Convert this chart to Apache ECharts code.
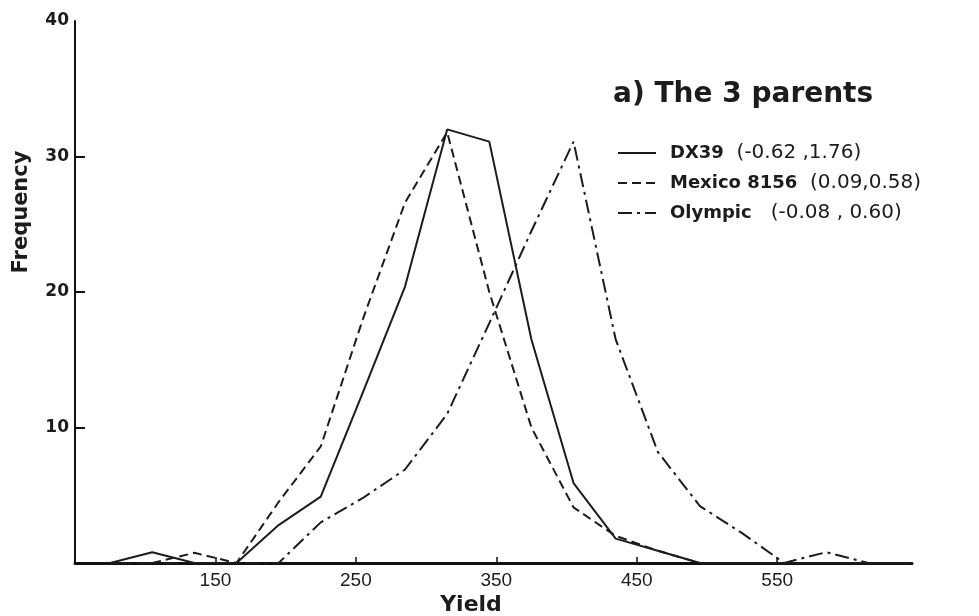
<!DOCTYPE html>
<html>
<head>
<meta charset="utf-8">
<script src="https://cdn.jsdelivr.net/npm/echarts@6/dist/echarts.min.js"></script>
<style>
html,body{margin:0;padding:0;background:#fff;}
#chart{width:979px;height:616px;}
</style>
</head>
<body>
<div id="chart"></div>
<script>
// Class midpoints (yield)
const yieldMid = [75,105,135,165,195,225,255,285,315,345,375,405,435,465,495,525,555,585,615,645];
// Frequencies
const dx39    = [0,0.8,0,0,2.8,4.9,12.6,20.4,32.0,31.1,16.5,5.9,1.8,0.9,0,0,0,0,0,0];
const mexico  = [0,0,0.75,0,4.5,8.6,18.0,26.6,31.8,20.0,10.0,4.1,2.0,0.9,0,0,0,0,0,0];
const olympic = [0,0,0,0,0,3.0,4.8,6.9,11.0,17.7,24.5,31.1,16.5,8.2,4.2,2.2,0,0.8,0,0];
const xTickValues = [150,250,350,450,550];
const yTickValues = [10,20,30,40];
const seriesNames = ['DX39','Mexico 8156','Olympic'];
const seriesStats = ['(-0.62 ,1.76)','(0.09,0.58)','(-0.08 , 0.60)'];
const statGaps = ['  ','  ','   '];

const ink = '#1c1c1c';
const chart = echarts.init(document.getElementById('chart'));
function pairs(vals){ return yieldMid.map((x,i)=>[x, vals[i]]); }

chart.setOption({
  animation:false,
  backgroundColor:'#ffffff',
  title:{
    text:'a) The 3 parents',
    left:608, top:76,
    textStyle:{fontFamily:'DejaVu Sans', fontWeight:'bold', fontSize:28, color:ink}
  },
  legend:{
    orient:'vertical',
    left:612, top:138,
    itemWidth:38, itemHeight:20, itemGap:10,
    data:seriesNames,
    itemStyle:{color:'rgba(0,0,0,0)', borderWidth:0, opacity:0},
    formatter:function(name){
      const i = seriesNames.indexOf(name);
      return '{g|}{n|'+name+'}{s|'+statGaps[i]+seriesStats[i]+'}';
    },
    textStyle:{
      rich:{
        g:{width:9},
        n:{fontFamily:'DejaVu Sans', fontWeight:'bold', fontSize:18, color:ink, lineHeight:20},
        s:{fontFamily:'DejaVu Sans', fontSize:20, color:ink, lineHeight:20}
      }
    }
  },
  grid:{left:75, right:67, top:21, bottom:53},
  xAxis:{
    type:'value', min:50, max:646,
    axisLine:{lineStyle:{color:'#111', width:3}},
    axisTick:{customValues:xTickValues, inside:true, length:6, lineStyle:{color:'#111', width:1.5}},
    axisLabel:{customValues:xTickValues, fontFamily:'Liberation Sans', fontSize:19, color:ink, margin:8,
      formatter:function(v){ return xTickValues.indexOf(v)>=0 ? String(v) : ''; }},
    splitLine:{show:false}
  },
  yAxis:{
    type:'value', min:0, max:40, interval:10,
    axisLine:{show:true, lineStyle:{color:'#111', width:2}},
    axisTick:{show:true, customValues:[10,20,30], inside:true, length:10, lineStyle:{color:'#111', width:2}},
    axisLabel:{customValues:yTickValues, fontFamily:'DejaVu Sans', fontWeight:'bold', fontSize:17, color:ink, margin:6,
      formatter:function(v){ return yTickValues.indexOf(v)>=0 ? String(v) : ''; }},
    splitLine:{show:false}
  },
  graphic:[
    {type:'text', x:22, y:212, rotation:Math.PI/2,
      style:{text:'Frequency', fontFamily:'DejaVu Sans', fontWeight:'bold', fontSize:21, fill:ink, textAlign:'center', textVerticalAlign:'middle'}},
    {type:'text', x:471, y:605,
      style:{text:'Yield', fontFamily:'DejaVu Sans', fontWeight:'bold', fontSize:22, fill:ink, textAlign:'center', textVerticalAlign:'middle'}}
  ],
  series:[
    {name:'DX39', type:'line', data:pairs(dx39), symbol:'none', color:ink,
      lineStyle:{color:ink, width:2, type:'solid'}},
    {name:'Mexico 8156', type:'line', data:pairs(mexico), symbol:'none', color:ink,
      lineStyle:{color:ink, width:2, type:[9,5]}},
    {name:'Olympic', type:'line', data:pairs(olympic), symbol:'none', color:ink,
      lineStyle:{color:ink, width:2, type:[14,5,3,5]}}
  ]
});
</script>
</body>
</html>
